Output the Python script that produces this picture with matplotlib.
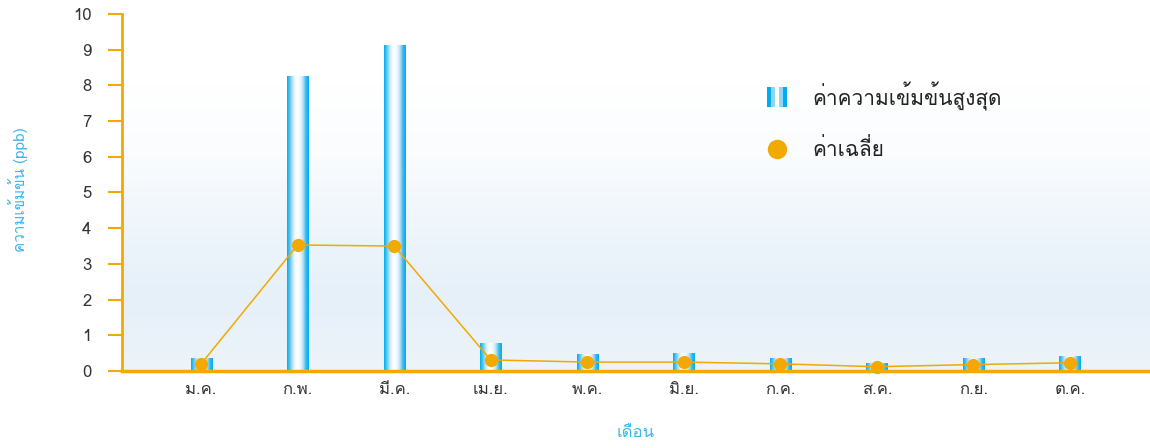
import numpy as np
import matplotlib
matplotlib.use("Agg")
import matplotlib.pyplot as plt
from matplotlib import font_manager
from matplotlib.ft2font import FT2Font
from matplotlib.colors import LinearSegmentedColormap
from matplotlib.legend_handler import HandlerBase
from matplotlib.patches import Rectangle

# ---- data ----
months = ["ม.ค.", "ก.พ.", "มี.ค.", "เม.ย.", "พ.ค.", "มิ.ย.", "ก.ค.", "ส.ค.", "ก.ย.", "ต.ค."]
max_values = [0.36, 8.24, 9.13, 0.76, 0.45, 0.50, 0.36, 0.22, 0.36, 0.42]
avg_values = [0.20, 3.53, 3.50, 0.31, 0.25, 0.25, 0.20, 0.12, 0.18, 0.23]
yticks = list(range(0, 11))
legend_max = "ค่าความเข้มข้นสูงสุด"
legend_avg = "ค่าเฉลี่ย"
ylabel = "ความเข้มข้น (ppb)"
xlabel = "เดือน"

# ---- find a font with Thai glyphs ----
thai_family = None
for fe in font_manager.fontManager.ttflist:
    try:
        f = FT2Font(fe.fname)
        cmap = f.get_charmap()
        if 0x0E04 in cmap and 0x0E40 in cmap:
            thai_family = fe.name
            break
    except Exception:
        continue
families = ([thai_family] if thai_family else []) + ["DejaVu Sans"]
plt.rcParams["font.family"] = families

ORANGE = "#f2a900"
BLUE_TXT = "#3bb7ec"

fig = plt.figure(figsize=(11.5, 4.48), dpi=100)
ax = fig.add_axes([122 / 1150, 77 / 448, 1 - 122 / 1150, (371 - 14) / 448])

x = np.arange(len(months))
XL = (-0.82, 9.83)

# background gradient (sky-like), bluish at the bottom, white at the top
bg = np.linspace(1, 0, 256).reshape(-1, 1)
bg_cmap = LinearSegmentedColormap.from_list(
    "bg", ["#ffffff", "#ffffff", "#fafcfe", "#eef5fb", "#e6f0f9", "#edf4fa"])
ax.imshow(bg, extent=[XL[0], XL[1], 0, 10], aspect="auto", cmap=bg_cmap,
          origin="lower", zorder=0)

# gradient bars
bar_cmap = LinearSegmentedColormap.from_list(
    "cyl", ["#00aeef", "#5cc6f2", "#bfe6f9", "#f5fbfe", "#ffffff", "#e8f5fc", "#a9ddf6", "#38b8ef", "#00aeef"])
grad = np.linspace(0, 1, 64).reshape(1, -1)
w = 0.22
bars = ax.bar(x, max_values, width=w, color="none", zorder=2)
for b in bars:
    x0 = b.get_x()
    h = b.get_height()
    ax.imshow(grad, extent=[x0, x0 + w, 0, h], aspect="auto", cmap=bar_cmap, zorder=2)
ax.set_xlim(*XL)
ax.set_ylim(0, 10)

ax.plot(x, avg_values, color=ORANGE, lw=1.1, marker="o", ms=9.5,
        markeredgewidth=0, zorder=4, clip_on=False)

# axes styling
for s in ["top", "right"]:
    ax.spines[s].set_visible(False)
ax.spines["left"].set_color(ORANGE)
ax.spines["left"].set_linewidth(2)
ax.spines["bottom"].set_color(ORANGE)
ax.spines["bottom"].set_linewidth(2.5)
ax.spines["bottom"].set_zorder(5)
ax.set_yticks(yticks)
ax.set_yticklabels([str(v) for v in yticks], fontsize=12, color="#333333")
ax.tick_params(axis="y", color=ORANGE, length=10, width=1.5, pad=12)
ax.set_xticks(x)
ax.set_xticklabels(months, fontsize=12, color="#333333")
ax.tick_params(axis="x", length=0, pad=8)

fig.text(18 / 1150, 1 - 190 / 448, ylabel, rotation=90, color=BLUE_TXT,
         fontsize=11, ha="center", va="center")
fig.text(636 / 1150, 1 - 433 / 448, xlabel, color=BLUE_TXT,
         fontsize=12, ha="center", va="center")

# legend
class GradHandler(HandlerBase):
    def create_artists(self, legend, orig, xd, yd, width, height, fontsize, trans):
        arts = []
        cols = ["#00aeef", "#8fd6f5", "#ffffff", "#8fd6f5", "#00aeef"]
        n = len(cols)
        bw = 14.5 / n
        x0 = xd + (width - 14.5) / 2
        for i, c in enumerate(cols):
            r = Rectangle((x0 + i * bw, yd - 1), bw, 14.5, facecolor=c, edgecolor="none", transform=trans)
            arts.append(r)
        return arts

proxy_bar = Rectangle((0, 0), 1, 1)
line_proxy = plt.Line2D([], [], color=ORANGE, marker="o", ms=14, lw=0, markeredgewidth=0)
leg = ax.legend([proxy_bar, line_proxy], [legend_max, legend_avg],
                handler_map={Rectangle: GradHandler()},
                loc="upper left", bbox_to_anchor=((742 - 122) / 1028, 1 - (63 - 14) / 357),
                frameon=False, fontsize=15, labelspacing=1.3, handlelength=1.6,
                handletextpad=0.9)
for t in leg.get_texts():
    t.set_color("#222222")

fig.savefig("out.png", dpi=100)
